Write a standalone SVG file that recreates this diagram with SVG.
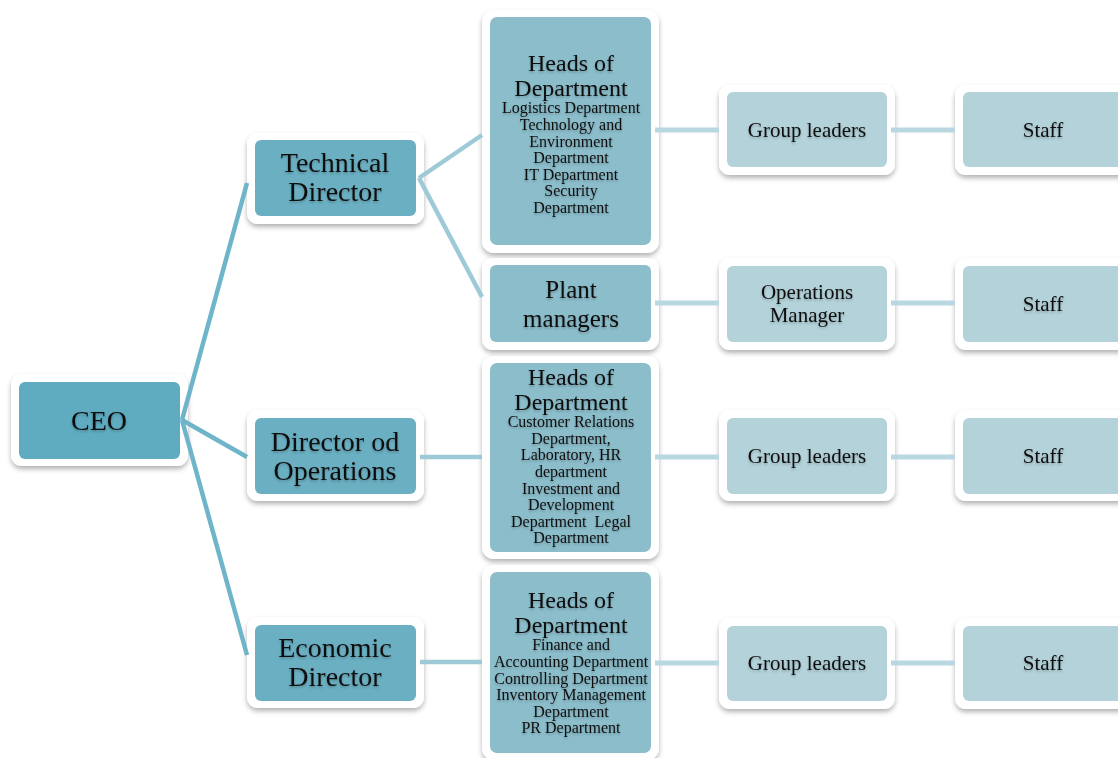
<svg xmlns="http://www.w3.org/2000/svg" width="1118" height="758" viewBox="0 0 1118 758">
<defs>
<filter id="sh" x="-10%" y="-10%" width="120%" height="125%">
<feDropShadow dx="0" dy="3" stdDeviation="2.5" flood-color="#000" flood-opacity="0.3"/>
</filter>
<filter id="ts" x="-5%" y="-10%" width="110%" height="130%">
<feDropShadow dx="0" dy="1.5" stdDeviation="1.2" flood-color="#000" flood-opacity="0.25"/>
</filter>
<style>
.o{fill:#fff;filter:url(#sh)}
.c0{fill:#5fabc0}
.c1{fill:#6aafc2}
.c2{fill:#8bbdcb}
.c3{fill:#b3d2da}
text{font-family:"Liberation Serif","Times New Roman",serif;fill:#111;text-anchor:middle;filter:url(#ts)}
.big{font-size:28px}
.hd{font-size:24px}
.sm{font-size:16px}
.md{font-size:21px}
.l1{stroke:#6fb5c9;stroke-width:4.5;fill:none}
.l2{stroke:#9ecad8;stroke-width:4.5;fill:none}
.l3{stroke:#b8d7e0;stroke-width:5;fill:none}
</style>
</defs>
<rect width="1118" height="758" fill="#fff"/>
<g id="ceo">
<rect class="o" x="11" y="374" width="177" height="92" rx="11"/>
<rect class="c0" x="19" y="382" width="161" height="77" rx="6"/>
<text class="big" x="99" y="430">CEO</text>
</g>
<g id="technical-director">
<rect class="o" x="247" y="133" width="177" height="91" rx="11"/>
<rect class="c1" x="255" y="140" width="161" height="76" rx="6"/>
<text class="big" x="335" y="172">Technical</text>
<text class="big" x="335" y="201">Director</text>
</g>
<g id="director-operations">
<rect class="o" x="247" y="410" width="177" height="91" rx="11"/>
<rect class="c1" x="255" y="418" width="161" height="76" rx="6"/>
<text class="big" x="335" y="451">Director od</text>
<text class="big" x="335" y="480">Operations</text>
</g>
<g id="economic-director">
<rect class="o" x="247" y="617" width="177" height="91" rx="11"/>
<rect class="c1" x="255" y="625" width="161" height="76" rx="6"/>
<text class="big" x="335" y="657">Economic</text>
<text class="big" x="335" y="686">Director</text>
</g>
<g id="heads-technical">
<rect class="o" x="482" y="10" width="177" height="243" rx="12"/>
<rect class="c2" x="490" y="17" width="161" height="228" rx="7"/>
<text class="hd" x="571" y="71">Heads of</text>
<text class="hd" x="571" y="96">Department</text>
<text class="sm" x="571" y="113">Logistics Department</text>
<text class="sm" x="571" y="130">Technology and</text>
<text class="sm" x="571" y="147">Environment</text>
<text class="sm" x="571" y="163">Department</text>
<text class="sm" x="571" y="180">IT Department</text>
<text class="sm" x="571" y="196">Security</text>
<text class="sm" x="571" y="213">Department</text>
</g>
<g id="plant-managers">
<rect class="o" x="482" y="258" width="177" height="92" rx="11"/>
<rect class="c2" x="490" y="265" width="161" height="77" rx="6"/>
<text class="big" x="571" y="298" style="font-size:25px">Plant</text>
<text class="big" x="571" y="327" style="font-size:25px">managers</text>
</g>
<g id="heads-operations">
<rect class="o" x="482" y="356" width="177" height="203" rx="12"/>
<rect class="c2" x="490" y="363" width="161" height="189" rx="7"/>
<text class="hd" x="571" y="385">Heads of</text>
<text class="hd" x="571" y="410">Department</text>
<text class="sm" x="571" y="427">Customer Relations</text>
<text class="sm" x="571" y="444">Department,</text>
<text class="sm" x="571" y="460">Laboratory, HR</text>
<text class="sm" x="571" y="477">department</text>
<text class="sm" x="571" y="494">Investment and</text>
<text class="sm" x="571" y="510">Development</text>
<text class="sm" x="571" y="527" xml:space="preserve">Department  Legal</text>
<text class="sm" x="571" y="543">Department</text>
</g>
<g id="heads-economic">
<rect class="o" x="482" y="565" width="177" height="195" rx="12"/>
<rect class="c2" x="490" y="572" width="161" height="181" rx="7"/>
<text class="hd" x="571" y="608">Heads of</text>
<text class="hd" x="571" y="633">Department</text>
<text class="sm" x="571" y="650">Finance and</text>
<text class="sm" x="571" y="667">Accounting Department</text>
<text class="sm" x="571" y="684">Controlling Department</text>
<text class="sm" x="571" y="700">Inventory Management</text>
<text class="sm" x="571" y="717">Department</text>
<text class="sm" x="571" y="733">PR Department</text>
</g>
<g id="group-leaders-1">
<rect class="o" x="719" y="85" width="176" height="90" rx="11"/>
<rect class="c3" x="727" y="92" width="160" height="75" rx="6"/>
<text class="md" x="807" y="137">Group leaders</text>
</g>
<g id="operations-manager">
<rect class="o" x="719" y="258" width="176" height="92" rx="11"/>
<rect class="c3" x="727" y="266" width="160" height="76" rx="6"/>
<text class="md" x="807" y="299">Operations</text>
<text class="md" x="807" y="322">Manager</text>
</g>
<g id="group-leaders-2">
<rect class="o" x="719" y="410" width="176" height="91" rx="11"/>
<rect class="c3" x="727" y="418" width="160" height="76" rx="6"/>
<text class="md" x="807" y="463">Group leaders</text>
</g>
<g id="group-leaders-3">
<rect class="o" x="719" y="618" width="176" height="91" rx="11"/>
<rect class="c3" x="727" y="626" width="160" height="75" rx="6"/>
<text class="md" x="807" y="670">Group leaders</text>
</g>
<g id="staff-1">
<rect class="o" x="955" y="85" width="176" height="90" rx="11"/>
<rect class="c3" x="963" y="92" width="160" height="75" rx="6"/>
<text class="md" x="1043" y="137">Staff</text>
</g>
<g id="staff-2">
<rect class="o" x="955" y="258" width="176" height="92" rx="11"/>
<rect class="c3" x="963" y="266" width="160" height="76" rx="6"/>
<text class="md" x="1043" y="311">Staff</text>
</g>
<g id="staff-3">
<rect class="o" x="955" y="410" width="176" height="91" rx="11"/>
<rect class="c3" x="963" y="418" width="160" height="76" rx="6"/>
<text class="md" x="1043" y="463">Staff</text>
</g>
<g id="staff-4">
<rect class="o" x="955" y="618" width="176" height="91" rx="11"/>
<rect class="c3" x="963" y="626" width="160" height="75" rx="6"/>
<text class="md" x="1043" y="670">Staff</text>
</g>
<g id="connectors">
<path class="l1" d="M182,420 L247,183"/>
<path class="l1" d="M182,420 L247,457"/>
<path class="l1" d="M182,420 L247,655"/>
<path class="l2" d="M419,178 L482,135"/>
<path class="l2" d="M419,178 L482,297"/>
<path class="l2" d="M420,457 L482,457"/>
<path class="l2" d="M420,662 L482,662"/>
<path class="l3" d="M655,130 L719,130"/>
<path class="l3" d="M655,303 L719,303"/>
<path class="l3" d="M655,457 L719,457"/>
<path class="l3" d="M655,663 L719,663"/>
<path class="l3" d="M891,130 L955,130"/>
<path class="l3" d="M891,303 L955,303"/>
<path class="l3" d="M891,457 L955,457"/>
<path class="l3" d="M891,663 L955,663"/>
</g>
</svg>
